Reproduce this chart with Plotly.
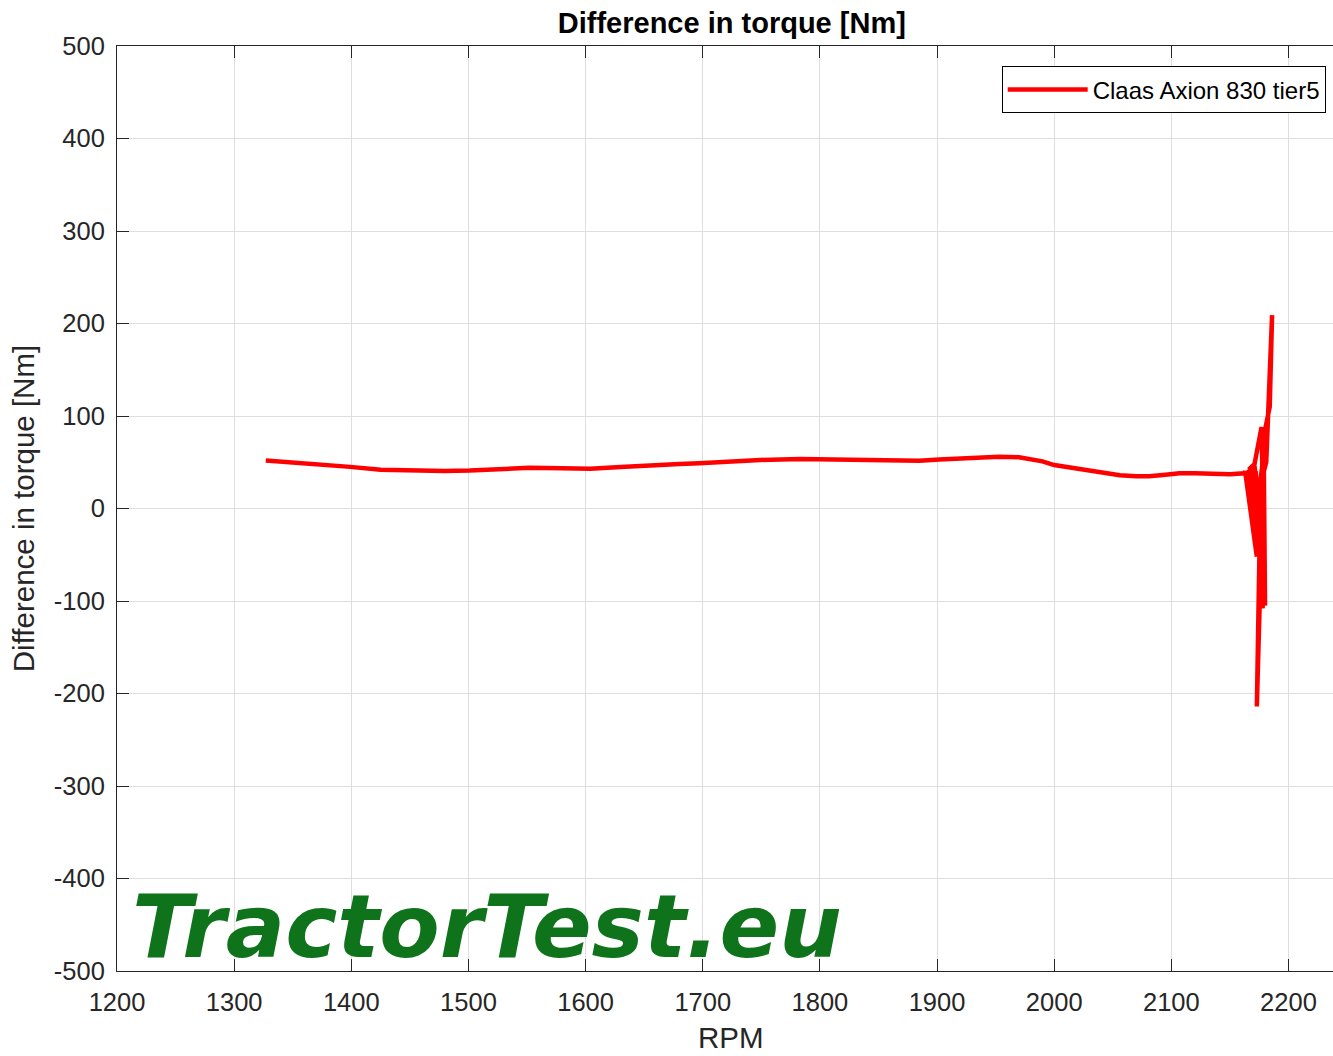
import plotly.graph_objects as go

# Data
rpm = [1327, 1350, 1375, 1399, 1425, 1459, 1480, 1501, 1525, 1552, 1580, 1604,
       1630, 1655, 1680, 1697, 1725, 1749, 1783, 1810, 1834, 1850, 1868, 1885,
       1902, 1928, 1953, 1970, 1979, 1990, 2000, 2015, 2030, 2045, 2056, 2070,
       2081, 2095, 2107, 2120, 2137, 2150, 2162,
       2163, 2173, 2164, 2174, 2165, 2174, 2166, 2175, 2167, 2176, 2169, 2177,
       2171, 2178, 2172, 2178, 2176, 2179, 2173, 2176, 2180, 2184, 2186, 2181,
       2179, 2180, 2178, 2177, 2171, 2166]
torque = [52, 50, 48, 45, 42, 40.5, 40.5, 41, 42.5, 44, 43.5, 43,
          45, 47, 48, 49, 51, 52.5, 53.5, 53, 52.5, 52, 51, 51.5,
          53, 55, 56, 55.5, 54, 51, 47, 44, 41, 38.5, 36, 35,
          35, 36.5, 38, 38, 37, 37, 38,
          40, -52, 39, -45, 41, -35, 42, -30, 43, -58, 45, -20,
          46, -108, 40, -60, 30, 60, -214, 10, 85, 110, 209, 50,
          40, -105, 60, 88, 48, 42]

series_name = "Claas Axion 830 tier5"
x_ticks = [1200, 1300, 1400, 1500, 1600, 1700, 1800, 1900, 2000, 2100, 2200]
y_ticks = [500, 400, 300, 200, 100, 0, -100, -200, -300, -400, -500]
y_tick_labels = ["500", "400", "300", "200", "100", "0", "-100", "-200", "-300", "-400", "-500"]

FONT = "Liberation Sans, Arial, sans-serif"
TICK_SIZE = 25.5
LABEL_SIZE = 29.5

fig = go.Figure()
fig.add_trace(go.Scatter(
    x=rpm, y=torque, mode="lines", name=series_name,
    line=dict(color="#ff0000", width=4.5),
))

fig.update_layout(
    width=1333, height=1056,
    margin=dict(l=117, r=0, t=46, b=85),
    paper_bgcolor="white", plot_bgcolor="white",
    font=dict(family=FONT, size=TICK_SIZE, color="#262626"),
    title=dict(text="Difference in torque [Nm]", x=0.549, xanchor="center",
               y=0.978, yanchor="middle",
               font=dict(family=FONT, size=29, color="black", weight="bold")),
    showlegend=True,
    legend=dict(x=0.994, xanchor="right", y=0.978, yanchor="top",
                bordercolor="black", borderwidth=1, bgcolor="white",
                itemwidth=80,
                font=dict(family=FONT, size=24, color="black")),
    xaxis=dict(range=[1200, 2238], tickvals=x_ticks, ticks="inside", ticklen=12,
               tickcolor="#262626", showline=True, linecolor="#262626", linewidth=1,
               mirror="ticks", showgrid=True, gridcolor="#dedede", zeroline=False,
               ticklabelstandoff=8,
               tickfont=dict(family=FONT, size=TICK_SIZE, color="#262626")),
    yaxis=dict(range=[-500, 500], tickvals=y_ticks, ticktext=y_tick_labels,
               ticks="inside", ticklen=12,
               tickcolor="#262626", showline=True, linecolor="#262626", linewidth=1,
               mirror=False, showgrid=True, gridcolor="#dedede", zeroline=False,
               ticklabelstandoff=6,
               title=dict(text="Difference in torque [Nm]", font=dict(family=FONT, size=LABEL_SIZE, color="#262626"), standoff=10),
               tickfont=dict(family=FONT, size=TICK_SIZE, color="#262626")),
)

# x-axis title (centred as in the reference)
fig.add_annotation(
    text="RPM", xref="paper", yref="paper", x=0.5053, y=-0.0724,
    xanchor="center", yanchor="middle", showarrow=False,
    font=dict(family=FONT, size=LABEL_SIZE, color="#262626"),
)

fig.add_annotation(
    text="TractorTest.eu", xref="x", yref="y", x=1211, y=-452,
    xanchor="left", yanchor="middle", showarrow=False,
    font=dict(family="DejaVu Sans", size=88, color="#0f731c", weight="bold", style="italic"),
)

fig.write_html("out.html", config={"displayModeBar": False},
               post_script="document.body.style.margin='0';")
